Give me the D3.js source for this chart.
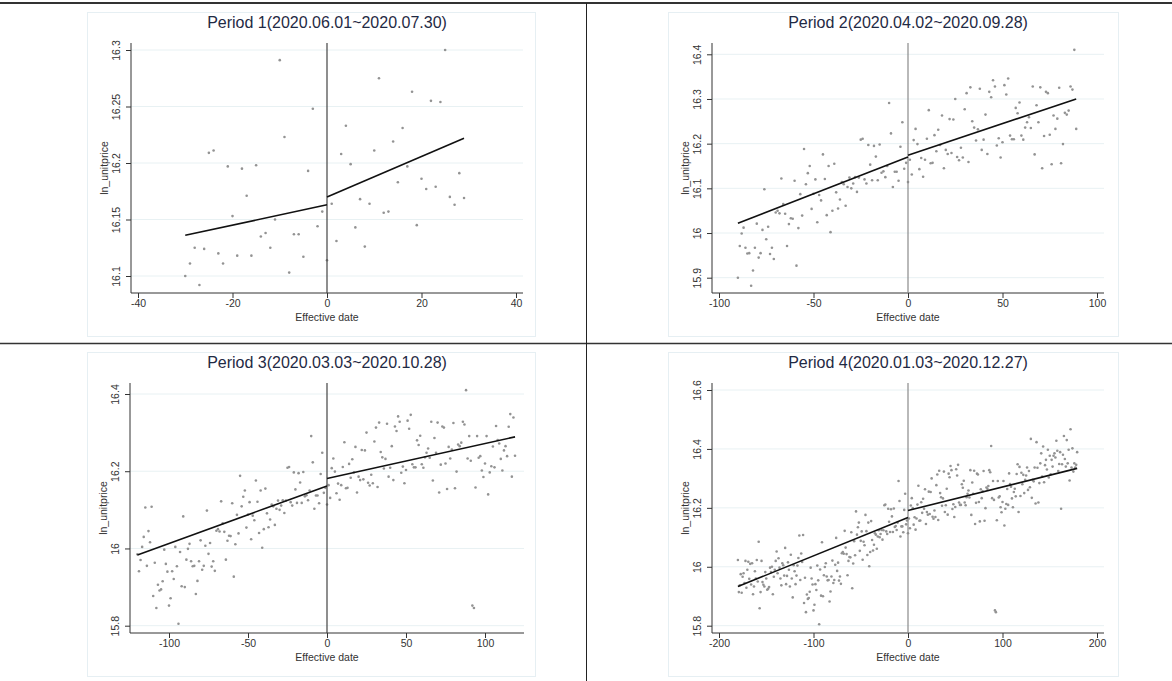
<!DOCTYPE html>
<html>
<head>
<meta charset="utf-8">
<script src="https://cdn.jsdelivr.net/npm/d3@7"></script>
<style>
  body { margin: 0; background: #fff; }
  svg { display: block; font-family: 'Liberation Sans', Arial, sans-serif; }
</style>
</head>
<body>
<svg id="canvas" width="1172" height="681"></svg>
<script>
// daily ln(unit price), day -180 ... 179 around the effective date
let dayStart = -180
let lnUnitprice = [
  // -180 .. -121
  16.023, 15.914, 15.937, 15.975, 15.912, 15.966, 15.978, 15.945, 16.020, 15.929,
  15.990, 16.017, 15.959, 16.010, 15.940, 16.012, 15.907, 15.933, 15.985, 15.960,
  16.023, 15.950, 16.085, 15.859, 15.914, 16.020, 15.948, 15.939, 15.933, 15.982,
  15.960, 15.922, 15.925, 15.931, 15.997, 15.982, 16.000, 15.907, 15.966, 15.990,
  16.020, 16.052, 15.978, 16.029, 15.997, 15.960, 15.937, 16.012, 16.005, 15.970,
  16.064, 15.941, 15.969, 16.015, 15.990, 15.933, 16.041, 15.960, 15.896, 16.005,
  // -120 .. -91
  15.985, 15.941, 15.970, 16.004, 16.030, 16.106, 15.955, 16.045, 16.016, 16.108,
  15.877, 15.963, 15.846, 15.906, 15.891, 15.894, 15.915, 15.997, 15.960, 15.940,
  15.852, 15.871, 15.941, 15.921, 16.004, 15.954, 15.805, 15.991, 15.902, 16.083,
  // -90 .. -31
  15.900, 15.971, 15.999, 16.012, 15.967, 15.954, 15.955, 15.882, 15.916, 15.967,
  16.021, 15.945, 15.955, 16.007, 16.098, 15.986, 16.014, 15.953, 15.967, 15.942,
  16.046, 16.050, 16.044, 16.122, 16.065, 16.043, 15.971, 16.020, 16.033, 16.032,
  16.117, 15.927, 16.011, 16.087, 16.039, 16.188, 16.109, 16.134, 16.150, 16.054,
  16.088, 16.120, 16.024, 16.085, 16.073, 16.176, 16.121, 16.040, 16.150, 16.002,
  16.050, 16.155, 16.091, 16.055, 16.075, 16.114, 16.109, 16.061, 16.103, 16.124,
  // -30 .. 29
  16.100, 16.111, 16.125, 16.092, 16.124, 16.209, 16.211, 16.120, 16.111, 16.197,
  16.153, 16.118, 16.195, 16.171, 16.118, 16.198, 16.135, 16.138, 16.125, 16.150,
  16.291, 16.223, 16.103, 16.137, 16.137, 16.117, 16.193, 16.248, 16.144, 16.157,
  16.114, 16.164, 16.131, 16.208, 16.233, 16.199, 16.143, 16.168, 16.126, 16.164,
  16.211, 16.275, 16.156, 16.157, 16.219, 16.183, 16.231, 16.197, 16.263, 16.145,
  16.186, 16.177, 16.255, 16.179, 16.254, 16.300, 16.170, 16.163, 16.191, 16.169,
  // 30 .. 89
  16.277, 16.313, 16.159, 16.326, 16.250, 16.236, 16.207, 16.232, 16.323, 16.186,
  16.209, 16.265, 16.177, 16.316, 16.304, 16.342, 16.328, 16.196, 16.212, 16.169,
  16.203, 16.331, 16.310, 16.346, 16.218, 16.210, 16.210, 16.280, 16.268, 16.292,
  16.218, 16.209, 16.236, 16.248, 16.259, 16.235, 16.328, 16.176, 16.286, 16.248,
  16.326, 16.145, 16.217, 16.316, 16.313, 16.220, 16.154, 16.263, 16.233, 16.256,
  16.325, 16.156, 16.199, 16.269, 16.265, 16.274, 16.328, 16.321, 16.410, 16.233,
  // 90 .. 119
  16.291, 16.227, 15.852, 15.846, 16.158, 16.291, 16.235, 16.239, 16.202, 16.185,
  16.220, 16.291, 16.140, 16.197, 16.213, 16.264, 16.210, 16.317, 16.281, 16.272,
  16.232, 16.202, 16.254, 16.265, 16.239, 16.315, 16.348, 16.186, 16.339, 16.240,
  // 120 .. 179
  16.319, 16.280, 16.312, 16.250, 16.295, 16.310, 16.337, 16.261, 16.325, 16.270,
  16.434, 16.234, 16.295, 16.290, 16.337, 16.215, 16.423, 16.336, 16.218, 16.284,
  16.351, 16.385, 16.306, 16.408, 16.287, 16.345, 16.363, 16.330, 16.397, 16.303,
  16.377, 16.314, 16.363, 16.340, 16.377, 16.385, 16.371, 16.428, 16.394, 16.325,
  16.349, 16.389, 16.197, 16.348, 16.380, 16.444, 16.366, 16.340, 16.430, 16.351,
  16.397, 16.293, 16.467, 16.337, 16.402, 16.323, 16.351, 16.337, 16.346, 16.389
]

let periodTitles = ['Period 1(2020.06.01~2020.07.30)', 'Period 2(2020.04.02~2020.09.28)',
                    'Period 3(2020.03.03~2020.10.28)', 'Period 4(2020.01.03~2020.12.27)']
let periodFrom = [-30, -90, -120, -180]
let periodTo = [29, 89, 119, 179]

let xTicks = [[-40, -20, 0, 20, 40], [-100, -50, 0, 50, 100], [-100, -50, 0, 50, 100], [-200, -100, 0, 100, 200]]
let yTicks = [[16.1, 16.15, 16.2, 16.25, 16.3], [15.9, 16, 16.1, 16.2, 16.3, 16.4],
              [15.8, 16, 16.2, 16.4], [15.8, 16, 16.2, 16.4, 16.6]]

// fitted values of the two linear fits (start of window, day 0 | day 0, end of window)
let fitLeftStart = [16.136, 16.022, 15.983, 15.933]
let fitLeftEnd = [16.163, 16.170, 16.162, 16.167]
let fitRightStart = [16.170, 16.174, 16.181, 16.191]
let fitRightEnd = [16.222, 16.300, 16.289, 16.334]

let svg = d3.select('#canvas')

// panel geometry: pixel positions of outer ticks, plot edges and frame
let layout = [
  {x0: 138, x1: 516, left: 131, right: 523, y0: 276, y1: 50, top: 43, bottom: 293, frame: [87, 12, 535, 336], zero: '#444'},
  {x0: 719, x1: 1097, left: 712, right: 1104, y0: 277.7, y1: 54.3, top: 43, bottom: 293, frame: [668, 12, 1118, 336], zero: '#8a8a8a'},
  {x0: 169, x1: 485, left: 130, right: 524, y0: 625.7, y1: 394, top: 383, bottom: 633, frame: [87, 352, 535, 676], zero: '#444'},
  {x0: 719, x1: 1097, left: 712, right: 1104, y0: 625.7, y1: 390, top: 383, bottom: 633, frame: [668, 352, 1118, 676], zero: '#8a8a8a'}
]

let drawPanel = (i) => {
  let L = layout[i]
  let xt = xTicks[i], yt = yTicks[i]
  let xScale = d3.scaleLinear().domain([xt[0], xt[xt.length - 1]]).range([L.x0, L.x1])
  let yScale = d3.scaleLinear().domain([yt[0], yt[yt.length - 1]]).range([L.y0, L.y1])
  let g = svg.append('g')

  g.append('rect')
    .attr('x', L.frame[0] + 0.5).attr('y', L.frame[1] + 0.5)
    .attr('width', L.frame[2] - L.frame[0]).attr('height', L.frame[3] - L.frame[1])
    .attr('fill', 'none').attr('stroke', '#e6eff3')

  g.append('text')
    .attr('x', (L.left + L.right) / 2).attr('y', L.top - 15)
    .attr('text-anchor', 'middle').attr('font-size', 16).attr('fill', '#1f2a44')
    .text(periodTitles[i])

  // grid
  g.selectAll('.grid').data(yt).enter().append('line')
    .attr('x1', L.left).attr('x2', L.right)
    .attr('y1', (d) => yScale(d)).attr('y2', (d) => yScale(d))
    .attr('stroke', '#e8f1f3').attr('stroke-width', 1)

  // axes
  let yAxis = d3.axisLeft(yScale).tickValues(yt).tickSize(5).tickFormat((d) => String(d))
  let ya = g.append('g').attr('transform', 'translate(' + L.left + ',0)').call(yAxis)
  ya.select('.domain').attr('d', 'M0,' + L.top + 'V' + L.bottom)
  ya.selectAll('text')
    .attr('transform', 'translate(-11,0) rotate(-90)')
    .attr('x', 0).attr('y', 0).attr('dy', 0)
    .attr('text-anchor', 'middle')

  let xAxis = d3.axisBottom(xScale).tickValues(xt).tickSize(5).tickFormat((d) => String(d))
  let xa = g.append('g').attr('transform', 'translate(0,' + L.bottom + ')').call(xAxis)
  xa.select('.domain').attr('d', 'M' + L.left + ',0H' + L.right)
  xa.selectAll('text').attr('y', 7).attr('dy', '0.71em')

  g.selectAll('.domain, .tick line').attr('stroke', '#333')
  g.selectAll('.tick text').attr('font-size', 10.5).attr('fill', '#333')
    .attr('font-family', "'Liberation Sans', Arial, sans-serif")

  g.append('text')
    .attr('x', (L.left + L.right) / 2).attr('y', L.bottom + 28)
    .attr('text-anchor', 'middle').attr('font-size', 10.5).attr('fill', '#333')
    .text('Effective date')

  g.append('text')
    .attr('transform', 'translate(' + (L.left - 23) + ',' + (L.top + L.bottom) / 2 + ') rotate(-90)')
    .attr('text-anchor', 'middle').attr('font-size', 10.5).attr('fill', '#333')
    .text('ln_unitprice')

  // points in this window
  let pts = lnUnitprice.map((v, k) => ({day: dayStart + k, y: v}))
                       .filter((d) => d.day >= periodFrom[i] && d.day <= periodTo[i])
  g.selectAll('.pt').data(pts).enter().append('circle')
    .attr('cx', (d) => xScale(d.day)).attr('cy', (d) => yScale(d.y))
    .attr('r', 1.3).attr('fill', '#939393')

  // vertical line at the effective date
  g.append('line')
    .attr('x1', xScale(0)).attr('x2', xScale(0))
    .attr('y1', L.top).attr('y2', L.bottom)
    .attr('stroke', L.zero).attr('stroke-width', 1.2)

  // fitted lines
  let fit = [
    [[periodFrom[i], fitLeftStart[i]], [0, fitLeftEnd[i]]],
    [[0, fitRightStart[i]], [periodTo[i], fitRightEnd[i]]]
  ]
  let line = d3.line().x((d) => xScale(d[0])).y((d) => yScale(d[1]))
  g.selectAll('.fit').data(fit).enter().append('path')
    .attr('d', line).attr('fill', 'none').attr('stroke', '#111').attr('stroke-width', 1.6)
}

for (let i = 0; i < 4; i++) {
  drawPanel(i)
}

// table borders
svg.append('line').attr('x1', 0).attr('x2', 1172).attr('y1', 3).attr('y2', 3)
   .attr('stroke', '#333').attr('stroke-width', 2)
svg.append('line').attr('x1', 0).attr('x2', 1172).attr('y1', 343.5).attr('y2', 343.5)
   .attr('stroke', '#333').attr('stroke-width', 1.5)
svg.append('line').attr('x1', 586.5).attr('x2', 586.5).attr('y1', 3).attr('y2', 681)
   .attr('stroke', '#222').attr('stroke-width', 1)
</script>
</body>
</html>
